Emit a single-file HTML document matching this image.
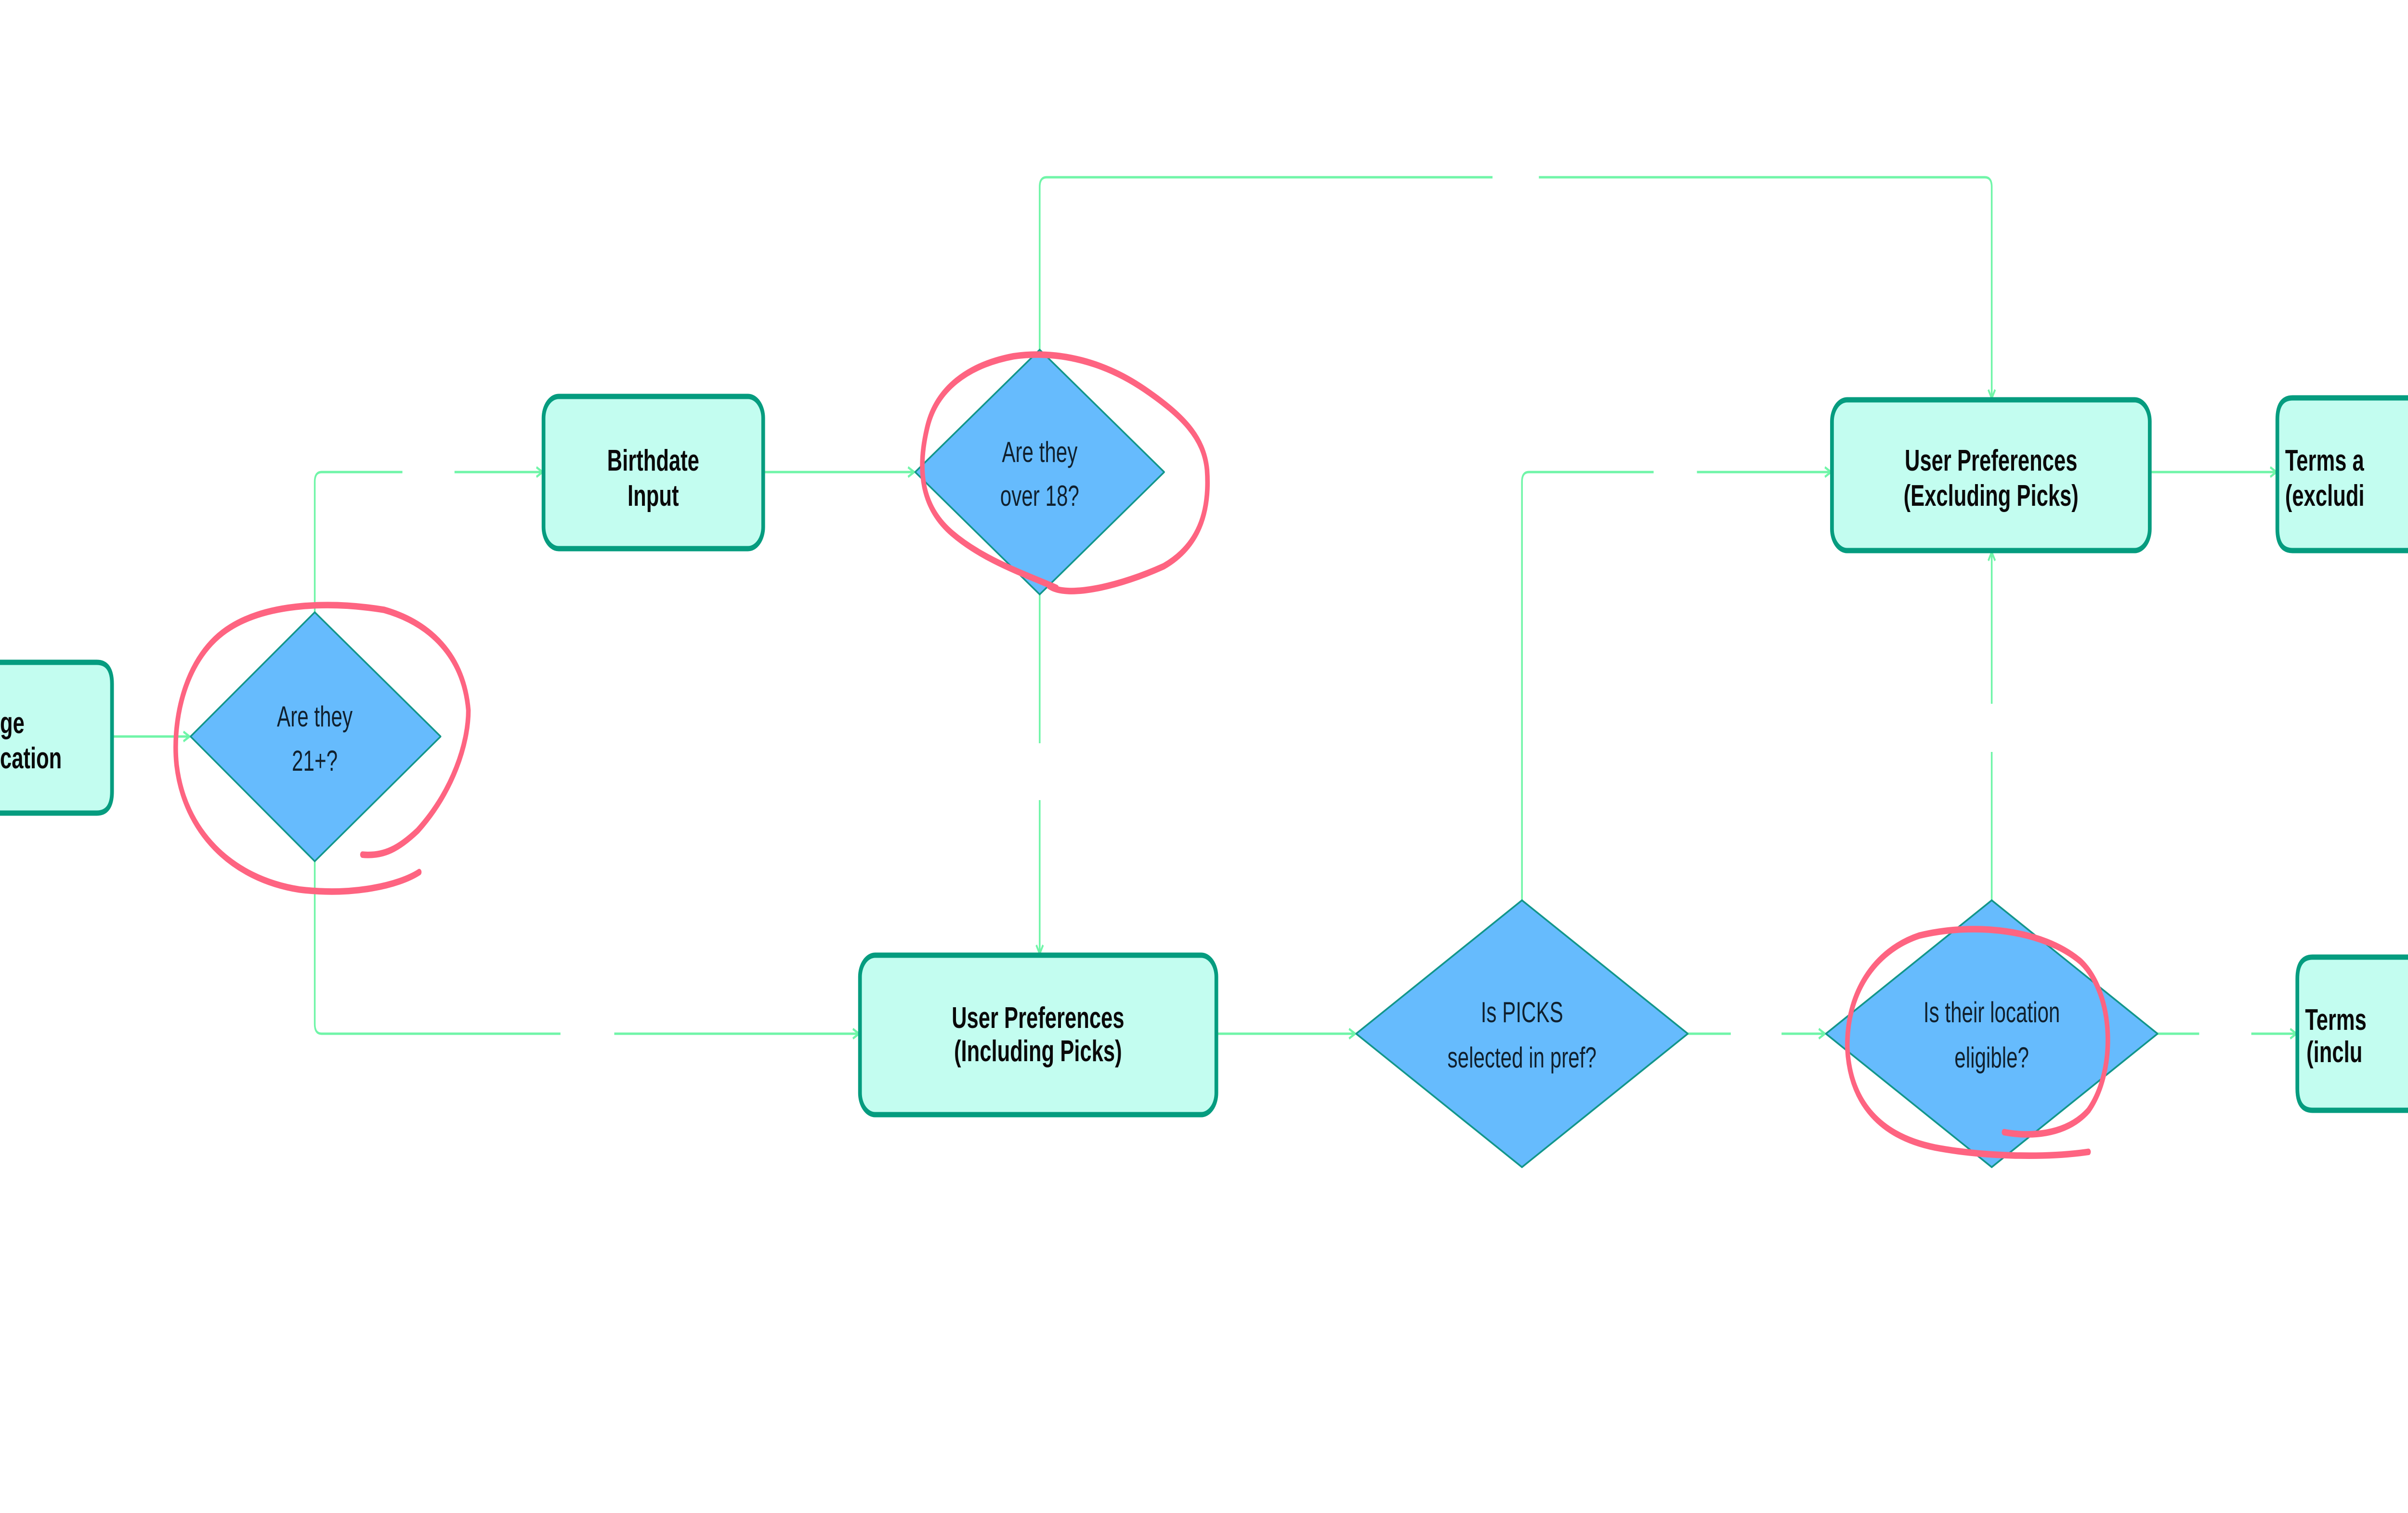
<!DOCTYPE html>
<html><head><meta charset="utf-8"><style>
html,body{margin:0;padding:0;background:#fff;width:100%;height:100%;overflow:hidden}
svg{display:block;width:100vw;height:100vh}
.box{fill:#c3fdf0;stroke:#059c7f;stroke-width:11}
.dia{fill:#66bbfd;stroke:#12968a;stroke-width:4;stroke-linejoin:round}
.c{fill:none;stroke:#70f5a8;stroke-width:5}
.bt{font-family:"Liberation Sans",sans-serif;font-weight:bold;font-size:62px;fill:#0a0a0a;text-anchor:middle}
.dt{font-family:"Liberation Sans",sans-serif;font-size:60px;fill:#10202e;text-anchor:middle}
.r{fill:none;stroke:#fe6481;stroke-width:3;stroke-linecap:round}
</style></head><body>
<svg viewBox="0 0 7115 3141" preserveAspectRatio="none" xmlns="http://www.w3.org/2000/svg">
<defs>
<marker id="a" markerWidth="30" markerHeight="30" refX="22" refY="12" orient="auto" markerUnits="userSpaceOnUse">
<path d="M4,2 L22,12 L4,22" fill="none" stroke="#70f5a8" stroke-width="5"/>
</marker>
</defs>
<path class="c" d="M331,1529 H560" marker-end="url(#a)"/>
<path class="c" d="M930,1271 V1000 Q930,980 950,980 H1189"/>
<path class="c" d="M1343,980 H1603" marker-end="url(#a)"/>
<path class="c" d="M2255,980 H2701" marker-end="url(#a)"/>
<path class="c" d="M3072,726 V388 Q3072,368 3092,368 H4410"/>
<path class="c" d="M4547,368 H5865 Q5885,368 5885,388 V827" marker-end="url(#a)"/>
<path class="c" d="M3072,1234 V1543"/>
<path class="c" d="M3072,1661 V1980" marker-end="url(#a)"/>
<path class="c" d="M930,1788 V2126 Q930,2146 950,2146 H1656"/>
<path class="c" d="M1815,2146 H2538" marker-end="url(#a)"/>
<path class="c" d="M3594,2146 H4004" marker-end="url(#a)"/>
<path class="c" d="M4987,2146 H5114"/>
<path class="c" d="M5264,2146 H5392" marker-end="url(#a)"/>
<path class="c" d="M4497,1869 V1000 Q4497,980 4517,980 H4886"/>
<path class="c" d="M5014,980 H5410" marker-end="url(#a)"/>
<path class="c" d="M5885,1869 V1561"/>
<path class="c" d="M5885,1461 V1146" marker-end="url(#a)"/>
<path class="c" d="M6375,2146 H6498"/>
<path class="c" d="M6652,2146 H6785" marker-end="url(#a)"/>
<path class="c" d="M6352,980 H6726" marker-end="url(#a)"/>
<path class="box" d="M0,1375 H286 Q331,1375 331,1420 V1643 Q331,1688 286,1688 H0"/>
<text class="bt" x="0" y="1522" style="text-anchor:start">ge</text>
<text class="bt" x="0" y="1595" style="text-anchor:start">cation</text>
<rect class="box" x="1606" y="823" width="649" height="316" rx="45"/>
<text class="bt" x="1930" y="977">Birthdate</text>
<text class="bt" x="1930" y="1050">Input</text>
<rect class="box" x="2541" y="1983" width="1053" height="331" rx="45"/>
<text class="bt" x="3067" y="2134">User Preferences</text>
<text class="bt" x="3067" y="2203">(Including Picks)</text>
<rect class="box" x="5413" y="830" width="939" height="313" rx="45"/>
<text class="bt" x="5883" y="977">User Preferences</text>
<text class="bt" x="5883" y="1050">(Excluding Picks)</text>
<path class="box" d="M7115,826 H6774 Q6729,826 6729,871 V1098 Q6729,1143 6774,1143 H7115"/>
<text class="bt" x="6752" y="977" style="text-anchor:start">Terms a</text>
<text class="bt" x="6752" y="1050" style="text-anchor:start">(excludi</text>
<path class="box" d="M7115,1987 H6833 Q6788,1987 6788,2032 V2260 Q6788,2305 6833,2305 H7115"/>
<text class="bt" x="6811" y="2138" style="text-anchor:start">Terms</text>
<text class="bt" x="6815" y="2205" style="text-anchor:start">(inclu</text>
<polygon class="dia" points="930,1271 1302,1529 930,1788 563,1529"/>
<text class="dt" x="930" y="1508">Are they</text>
<text class="dt" x="930" y="1600">21+?</text>
<polygon class="dia" points="3072,726 3440,980 3072,1234 2704,980"/>
<text class="dt" x="3072" y="959">Are they</text>
<text class="dt" x="3072" y="1050">over 18?</text>
<polygon class="dia" points="4497,1869 4987,2146 4497,2423 4007,2146"/>
<text class="dt" x="4497" y="2122">Is PICKS</text>
<text class="dt" x="4497" y="2216">selected in pref?</text>
<polygon class="dia" points="5885,1869 6375,2146 5885,2423 5395,2146"/>
<text class="dt" x="5885" y="2122">Is their location</text>
<text class="dt" x="5885" y="2216">eligible?</text>
<g transform="scale(4.5375)">
<path class="r" d="M236,391 C250,392 260,388 272,380 C295,362 305,340 305,325 C302,300 280,285 250,279 C215,275 175,276 150,287 C120,300 112,330 115,350 C120,380 150,402 195,407 C230,410 260,405 273,399"/>
<path class="r" d="M683,268 C695,274 730,268 758,259 C780,250 788,235 786,215 C784,200 770,190 745,178 C720,166 690,160 660,163 C630,167 610,178 604,195 C597,215 600,232 620,244 C640,256 665,262 688,269"/>
<path class="r" d="M1360,527 C1330,530 1290,529 1260,525 C1225,520 1205,505 1203,480 C1202,455 1220,435 1250,428 C1285,422 1330,425 1355,440 C1377,455 1378,490 1360,508 C1345,520 1320,520 1305,518"/>
</g>
</svg>
</body></html>
